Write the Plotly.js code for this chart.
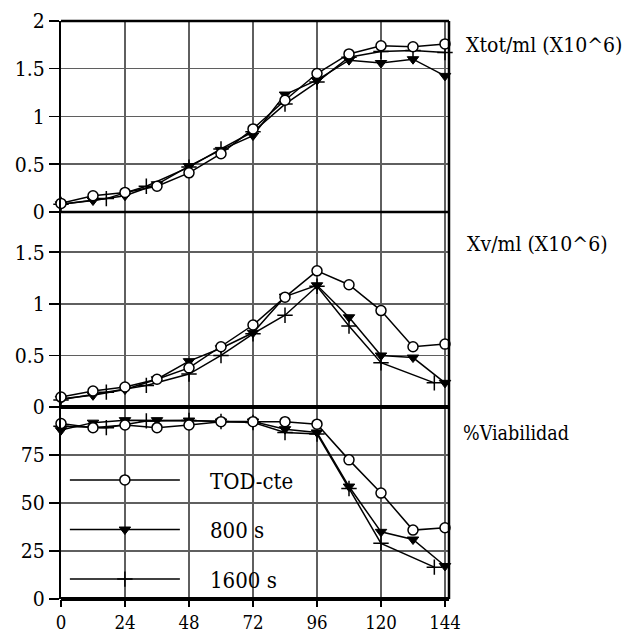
<!DOCTYPE html>
<html>
<head>
<meta charset="utf-8">
<script src="https://cdn.plot.ly/plotly-3.0.1.min.js"></script>
<style>html,body{margin:0;padding:0;background:#fff;}#chart{width:625px;height:637px;}</style>
</head>
<body>
<div id="chart"></div>
<script>
// Time (h)
var xTimes = [0, 12, 24, 36, 48, 60, 72, 84, 96, 108, 120, 132, 144];
var x1600Top = [0, 17, 32, 48, 60, 72, 84, 96, 108, 120, 132, 144];
var x1600 = [0, 17, 32, 48, 60, 72, 84, 96, 108, 120, 140];
var xTicks = [0, 24, 48, 72, 96, 120, 144];

// Xtot/ml (X10^6)
var todXtot = [0.09, 0.17, 0.205, 0.27, 0.41, 0.61, 0.87, 1.17, 1.45, 1.655, 1.74, 1.73, 1.76];
var s800Xtot = [0.08, 0.12, 0.17, 0.29, 0.48, 0.65, 0.80, 1.23, 1.38, 1.59, 1.56, 1.60, 1.425];
var s1600Xtot = [0.08, 0.14, 0.27, 0.47, 0.66, 0.84, 1.13, 1.36, 1.62, 1.68, 1.69, 1.67];

// Xv/ml (X10^6)
var todXv = [0.097, 0.156, 0.195, 0.27, 0.38, 0.585, 0.795, 1.065, 1.32, 1.185, 0.935, 0.585, 0.61];
var s800Xv = [0.08, 0.114, 0.17, 0.27, 0.445, 0.57, 0.72, 1.07, 1.18, 0.87, 0.50, 0.48, 0.235];
var s1600Xv = [0.07, 0.145, 0.21, 0.32, 0.5, 0.71, 0.89, 1.17, 0.785, 0.43, 0.235];

// % Viabilidad
var todVia = [91.4, 89.3, 90.7, 89.3, 90.7, 92.4, 92.4, 92.4, 91.1, 72.5, 55.2, 35.9, 37.1];
var s800Via = [88, 91.9, 93.2, 93.2, 93, 92.5, 92.5, 88.5, 86.8, 58.6, 35, 31, 17.2];
var s1600Via = [90, 89.3, 92.8, 93, 92.5, 92, 86.8, 86, 57.6, 29, 16.6];

var seriesNames = ['TOD-cte', '800 s', '1600 s'];
var panelLabels = ['Xtot/ml (X10^6)', 'Xv/ml (X10^6)', '%Viabilidad'];

var FONT = 'DejaVu Serif Condensed, DejaVu Serif';
// pick font sizes so that text widths match the reference
var cv = document.createElement('canvas').getContext('2d');
function fit(text, target) {
  cv.font = '100px "DejaVu Serif Condensed", "DejaVu Serif"';
  var w = cv.measureText(text).width;
  return Math.round(2 * 100 * target / w) / 2;
}
var sxTick = fit('144', 32);
var syTick = fit('1.5', 30);
var sLab0 = fit(panelLabels[0], 155);
var sLab1 = fit(panelLabels[1], 141);
var sLab2 = fit(panelLabels[2], 106);
var sLeg = fit('TOD-cte', 83);
cv.font = sLeg + 'px "DejaVu Serif Condensed", "DejaVu Serif"';
var nbW = cv.measureText('\u00a0').width;
var nbN = Math.max(1, Math.round(25 / nbW));
var NB = new Array(nbN + 1).join('\u00a0');

var lineStyle = {color: '#000', width: 1.5};
var mk = [
  {symbol: 'circle', size: 10, color: '#fff', line: {color: '#000', width: 1.5}},
  {symbol: 'triangle-down', size: 10, color: '#000', line: {color: '#000', width: 1}},
  {symbol: 'cross-thin-open', size: 11, color: '#000', line: {color: '#000', width: 1.5}}
];

function tr(x, y, i, xa, ya, legend) {
  return {
    x: x, y: y, type: 'scatter', mode: 'lines+markers',
    name: NB + seriesNames[i], xaxis: xa, yaxis: ya,
    line: lineStyle, marker: mk[i], showlegend: legend,
    legendgroup: 'g' + i, legendrank: i + 1, cliponaxis: false
  };
}

var data = [
  tr(x1600Top, s1600Xtot, 2, 'x', 'y', false),
  tr(xTimes, s800Xtot, 1, 'x', 'y', false),
  tr(xTimes, todXtot, 0, 'x', 'y', false),
  tr(x1600, s1600Xv, 2, 'x2', 'y2', false),
  tr(xTimes, s800Xv, 1, 'x2', 'y2', false),
  tr(xTimes, todXv, 0, 'x2', 'y2', false),
  tr(x1600, s1600Via, 2, 'x3', 'y3', true),
  tr(xTimes, s800Via, 1, 'x3', 'y3', true),
  tr(xTimes, todVia, 0, 'x3', 'y3', true)
];

var gridC = '#5f5f5f';
function xax(anchor, showLabels) {
  return {
    range: [0, 145.5], anchor: anchor, tickvals: xTicks,
    ticktext: xTicks.map(String), showticklabels: showLabels,
    showgrid: true, gridcolor: gridC, gridwidth: 1.5,
    zeroline: false, showline: false,
    ticks: showLabels ? 'outside' : '', ticklen: 7, tickwidth: 1.5, tickcolor: '#000',
    tickfont: {family: FONT, size: sxTick, color: '#000'}, fixedrange: true
  };
}
function yax(anchor, range, ticks, domain) {
  return {
    range: range, domain: domain, anchor: anchor,
    tickvals: ticks, ticktext: ticks.map(String),
    showgrid: true, gridcolor: gridC, gridwidth: 1.5, zeroline: false,
    showline: true, linecolor: '#000', linewidth: 2,
    ticks: 'outside', ticklen: 10, tickwidth: 1.5, tickcolor: '#000',
    tickfont: {family: FONT, size: syTick, color: '#000'}, fixedrange: true
  };
}

var dTop = [0.6696, 1], dMid = [0.332, 0.6696], dBot = [0, 0.332];

var layout = {
  width: 625, height: 637,
  margin: {l: 61, r: 176, t: 21, b: 38, pad: 0},
  paper_bgcolor: '#fff', plot_bgcolor: '#fff',
  font: {family: FONT, size: 20, color: '#000'},
  xaxis: xax('y', false),
  xaxis2: xax('y2', false),
  xaxis3: xax('y3', true),
  yaxis: yax('x', [0, 2], [0, 0.5, 1, 1.5, 2], dTop),
  yaxis2: yax('x2', [0, 1.89], [0, 0.5, 1, 1.5], dMid),
  yaxis3: yax('x3', [0, 100], [0, 25, 50, 75], dBot),
  showlegend: true,
  legend: {
    x: 0.01, y: 0.242, xanchor: 'left', yanchor: 'top',
    bgcolor: 'rgba(0,0,0,0)', borderwidth: 0,
    traceorder: 'grouped', tracegroupgap: 18,
    itemwidth: 110, font: {family: FONT, size: sLeg, color: '#000'}
  },
  shapes: [
    {type: 'line', xref: 'paper', yref: 'paper', x0: 0, x1: 1, y0: 1, y1: 1, line: {color: '#000', width: 2.5}},
    {type: 'line', xref: 'paper', yref: 'paper', x0: 1, x1: 1, y0: 0, y1: 1, line: {color: '#000', width: 2.5}},
    {type: 'line', xref: 'paper', yref: 'paper', x0: 0, x1: 1, y0: dTop[0], y1: dTop[0], line: {color: '#000', width: 2.5}},
    {type: 'line', xref: 'paper', yref: 'paper', x0: 0, x1: 1, y0: dMid[0], y1: dMid[0], line: {color: '#000', width: 4}},
    {type: 'line', xref: 'paper', yref: 'paper', x0: 0, x1: 1, y0: 0, y1: 0, line: {color: '#000', width: 4}}
  ],
  annotations: [
    {text: panelLabels[0], xref: 'paper', yref: 'paper', x: 1.039, y: 0.958, xanchor: 'left', yanchor: 'middle', showarrow: false, font: {family: FONT, size: sLab0, color: '#000'}},
    {text: panelLabels[1], xref: 'paper', yref: 'paper', x: 1.042, y: 0.615, xanchor: 'left', yanchor: 'middle', showarrow: false, font: {family: FONT, size: sLab1, color: '#000'}},
    {text: panelLabels[2], xref: 'paper', yref: 'paper', x: 1.03, y: 0.287, xanchor: 'left', yanchor: 'middle', showarrow: false, font: {family: FONT, size: sLab2, color: '#000'}}
  ]
};

Plotly.newPlot('chart', data, layout, {displayModeBar: false, staticPlot: true});
</script>
</body>
</html>
